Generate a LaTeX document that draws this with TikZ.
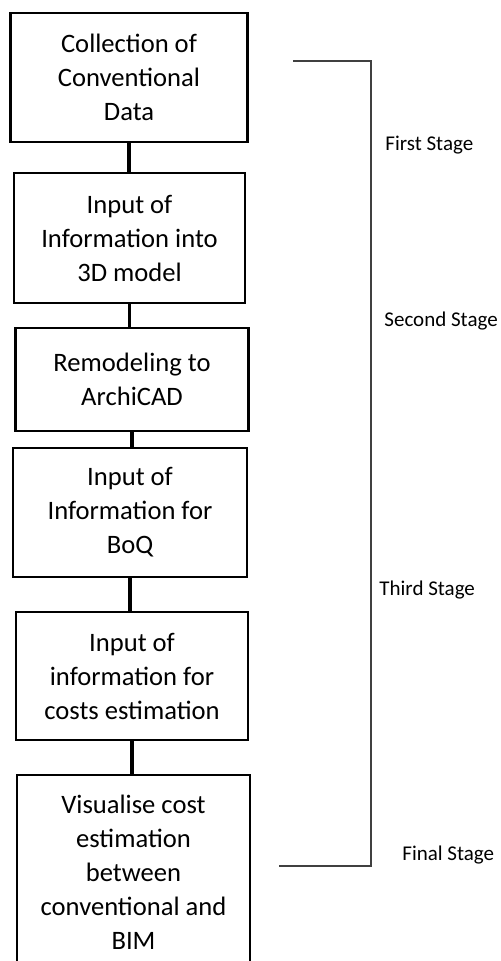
\documentclass[tikz,border=0pt]{standalone}
\usepackage{fontspec}
\setmainfont{Carlito}
\begin{document}
\begin{tikzpicture}[x=0.5pt,y=-0.5pt,
    stepbox/.style={draw,line width=1.2pt,align=center,inner sep=0pt,
      font=\fontsize{13.3pt}{17pt}\selectfont},
    link/.style={line width=1.9pt},
    bracket/.style={line width=0.6pt,draw=black!75},
    stagelabel/.style={anchor=west,inner sep=0pt,font=\fontsize{10.5pt}{12pt}\selectfont}]

        \clip (0,0) rectangle (500,961);

        \begin{scope}[every node/.style={stepbox}]
          \node[minimum width=118.5pt,minimum height=64.5pt] (1) at (129,77.5)
            {Collection of\\Conventional\\Data};
          \node[minimum width=115.5pt,minimum height=65pt] (2) at (129.5,238)
            {Input of\\Information into\\3D model};
          \node[minimum width=116.5pt,minimum height=51.5pt] (3) at (132,379.5)
            {Remodeling to\\ArchiCAD};
          \node[minimum width=117pt,minimum height=64.5pt] (4) at (130,512.5)
            {Input of\\Information for\\BoQ};
          \node[minimum width=116pt,minimum height=64pt] (5) at (132,676)
            {Input of\\information for\\costs estimation};
          \node[minimum width=116.5pt,minimum height=97.5pt] (6) at (133.5,872.5)
            {Visualise cost\\estimation\\between\\conventional and\\BIM};
        \end{scope}

        \begin{scope}[every path/.style={link}]
          \draw (1.south) -- (1.south |- 2.north);
          \draw (2.south) -- (2.south |- 3.north);
          \draw (3.south) -- (3.south |- 4.north);
          \draw (4.south) -- (4.south |- 5.north);
          \draw (5.south) -- (5.south |- 6.north);
        \end{scope}

        \coordinate (top)    at (293,61);
        \coordinate (bottom) at (279,866);
        \draw[bracket] (top) -- (371,61) -- (371,866) -- (bottom);

        \begin{scope}[every node/.style={stagelabel}]
          \node (first)  at (385,145) {First Stage};
          \node (second) at (384,321) {Second Stage};
          \node (third)  at (379,590) {Third Stage};
          \node (final)  at (402,855) {Final Stage};
        \end{scope}

      \end{tikzpicture}
\end{document}
